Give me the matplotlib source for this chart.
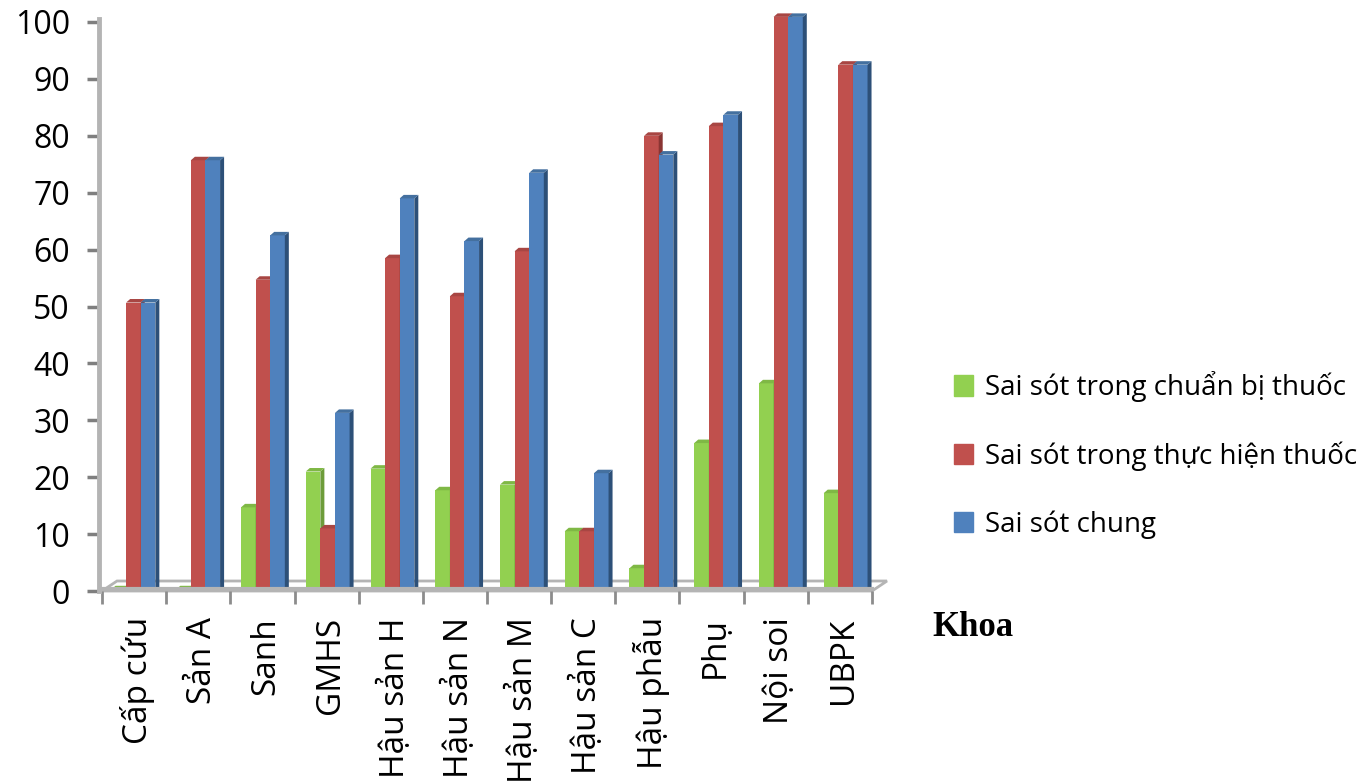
import matplotlib
matplotlib.use('Agg')
import matplotlib.pyplot as plt
from matplotlib.patches import Patch, Polygon
from matplotlib.ticker import MultipleLocator

plt.rcParams['font.family'] = ['Open Sans', 'Noto Sans', 'DejaVu Sans']

categories = ['Cấp cứu', 'Sản A', 'Sanh', 'GMHS', 'Hậu sản H', 'Hậu sản N', 'Hậu sản M',
              'Hậu sản C', 'Hậu phẫu', 'Phụ', 'Nội soi', 'UBPK']
chuan_bi = [0.3, 0.3, 14.7, 21, 21.5, 17.7, 18.7, 10.5, 4, 26, 36.5, 17.2]
thuc_hien = [50.7, 75.7, 54.7, 11, 58.5, 51.8, 59.7, 10.5, 80, 81.7, 100.9, 92.5]
chung = [50.7, 75.7, 62.5, 31.3, 69, 61.5, 73.5, 20.7, 76.7, 83.7, 100.9, 92.5]
series_names = ['Sai sót trong chuẩn bị thuốc', 'Sai sót trong thực hiện thuốc', 'Sai sót chung']
y_ticks = list(range(0, 101, 10))

W, H = 1365, 784
GREEN = ('#92d050', '#6d9c3a', '#7fb845')
RED = ('#c0504d', '#8a3533', '#a84643')
BLUE = ('#4f81bd', '#2d5078', '#44709f')
GRAY = '#b4b4b4'

X0, X1, Y0, Y100 = 102, 872, 591, 22
fig = plt.figure(figsize=(W / 100, H / 100), dpi=100)
ax = fig.add_axes([X0 / W, 1 - Y0 / H, (X1 - X0) / W, (Y0 - Y100) / H])
ax.set_xlim(0, len(categories))
ax.set_ylim(0, 100)

# depth of the fake 3d, in data units
px_x = len(categories) / (X1 - X0)
px_y = 100 / (Y0 - Y100)
dx = 4 * px_x
dy = 3.5 * px_y
bar_w = 14.6 * px_x


def draw_bar(x, v, colors, z):
    ax.bar(x, v, width=bar_w, align='edge', color=colors[0], linewidth=0, zorder=z, clip_on=False)
    side = [(x + bar_w, 0), (x + bar_w + dx, dy), (x + bar_w + dx, v + dy), (x + bar_w, v)]
    top = [(x, v), (x + dx, v + dy), (x + bar_w + dx, v + dy), (x + bar_w, v)]
    ax.add_patch(Polygon(side, closed=True, fc=colors[1], ec='none', zorder=z, clip_on=False))
    ax.add_patch(Polygon(top, closed=True, fc=colors[2], ec='none', zorder=z, clip_on=False))


# floor
floor_dx, floor_dy = 15 * px_x, 10 * px_y
floor = [(0, 0), (floor_dx, floor_dy), (len(categories) + floor_dx, floor_dy), (len(categories), 0)]
ax.add_patch(Polygon(floor, closed=True, fc='white', ec=GRAY, lw=2, zorder=1, clip_on=False))

for i in range(len(categories)):
    left = 0.49 + i * 1.009 - 1.5 * bar_w
    draw_bar(left, chuan_bi[i], GREEN, 3)
    draw_bar(left + bar_w, thuc_hien[i], RED, 4)
    draw_bar(left + 2 * bar_w, chung[i], BLUE, 5)

# front edge of the floor sits over the bar feet
ax.plot([0, len(categories)], [0.3, 0.3], color=GRAY, lw=3, zorder=6, clip_on=False)

for s in ['top', 'right', 'bottom']:
    ax.spines[s].set_visible(False)
ax.spines['left'].set_color(GRAY)
ax.spines['left'].set_linewidth(3.5)
ax.spines['left'].set_position(('outward', 2))
ax.spines['left'].set_bounds(0, 100.5)

ax.set_yticks(y_ticks)
ax.tick_params(axis='y', length=9, width=2.5, color='#7f7f7f', labelsize=23, pad=12)
ax.xaxis.set_major_locator(MultipleLocator(1))
ax.tick_params(axis='x', which='major', length=9, width=2, color='#8c8c8c', labelbottom=False)
for i, name in enumerate(categories):
    ax.text(i + 0.56, -4.6, name, rotation=90, ha='center', va='top', fontsize=24,
            color='black', clip_on=False)

handles = [Patch(color=GREEN[0]), Patch(color=RED[0]), Patch(color=BLUE[0])]
fig.legend(handles, series_names, loc='center left', bbox_to_anchor=(954 / W, 1 - 455 / H),
           frameon=False, fontsize=20, handlelength=0.7, handleheight=0.75, handletextpad=0.4,
           labelspacing=1.42, borderpad=0, borderaxespad=0)

fig.text(932 / W, 1 - 627 / H, 'Khoa', family='Liberation Serif', fontweight='bold',
         fontsize=25, va='center', ha='left')

fig.savefig('out.png', dpi=100)
